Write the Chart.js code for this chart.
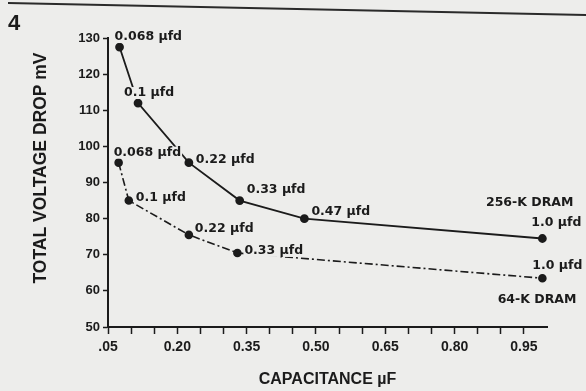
<!DOCTYPE html>
<html>
<head>
<meta charset="utf-8">
<script src="https://cdn.jsdelivr.net/npm/chart.js@4"></script>
<style>
  html, body { margin: 0; padding: 0; background: #ededeb; }
  .wrap { width: 586px; height: 391px; position: relative; }
</style>
</head>
<body>
<div class="wrap"><canvas id="chart_canvas"></canvas></div>
<script>
// 데이터
const cap256 = [0.075, 0.115, 0.225, 0.335, 0.475, 0.99];
const drop256 = [127.5, 112, 95.5, 85, 80, 74.5];
const names256 = ['0.068 µfd', '0.1 µfd', '0.22 µfd', '0.33 µfd', '0.47 µfd', '1.0 µfd'];

const cap64 = [0.073, 0.095, 0.225, 0.33, 0.99];
const drop64 = [95.5, 85, 75.5, 70.5, 63.5];
const names64 = ['0.068 µfd', '0.1 µfd', '0.22 µfd', '0.33 µfd', '1.0 µfd'];

const seriesNames = ['256-K DRAM', '64-K DRAM'];
const xTickLabels = ['.05', '0.20', '0.35', '0.50', '0.65', '0.80', '0.95'];

// 라벨 위치 (점 기준 px)
const labelOffsets = [
    [[-5, -10], [-14, -10], [7, -3], [7, -11], [7, -7], [39, -16, 'right']],
    [[-5, -10], [7, -3], [6, -6], [7, -2], [40, -12, 'right']]
];
const seriesOffsets = [[31, -36], [34, 22]];

const bg = '#ededeb';
const ink = '#1b1b1b';

// 점 라벨 + 시리즈 이름
const pointLabels = {
    id: 'pointLabels',
    afterDatasetsDraw(chart) {
        const ctx = chart.ctx;
        ctx.save();
        ctx.font = 'bold 12.5px "DejaVu Sans"';
        ctx.textBaseline = 'middle';
        ctx.textAlign = 'left';
        chart.data.datasets.forEach(function(ds, di) {
            const meta = chart.getDatasetMeta(di);
            meta.data.forEach(function(pt, i) {
                const o = labelOffsets[di][i];
                const text = ds.pointNames[i];
                const w = ctx.measureText(text).width;
                let x = pt.x + o[0];
                if (o[2] === 'right') x -= w;
                const y = pt.y + o[1];
                ctx.fillStyle = bg;
                ctx.fillRect(x - 1, y - 6, w + 2, 12);
                ctx.fillStyle = ink;
                ctx.fillText(text, x, y);
            });
            // 시리즈 이름
            const last = meta.data[meta.data.length - 1];
            const so = seriesOffsets[di];
            ctx.textAlign = 'right';
            ctx.fillText(ds.label, last.x + so[0], last.y + so[1]);
            ctx.textAlign = 'left';
        });
        ctx.restore();
    }
};

// 그림 번호, 위쪽 선, y축 제목
const decorations = {
    id: 'decorations',
    afterDraw(chart) {
        const ctx = chart.ctx;
        ctx.save();
        ctx.strokeStyle = '#2a2a2a';
        ctx.lineWidth = 2;
        ctx.beginPath();
        ctx.moveTo(8, 3);
        ctx.lineTo(586, 15);
        ctx.stroke();

        ctx.fillStyle = ink;
        ctx.font = 'bold 22px "Liberation Sans"';
        ctx.textBaseline = 'alphabetic';
        ctx.fillText('4', 8, 30);

        ctx.translate(41, 168);
        ctx.rotate(-Math.PI / 2);
        ctx.font = 'bold 17.5px "Liberation Sans"';
        ctx.textAlign = 'center';
        ctx.textBaseline = 'middle';
        ctx.fillText('TOTAL VOLTAGE DROP mV', 0, 0);
        ctx.restore();
    }
};

const ctx = document.getElementById('chart_canvas');
const chart = new Chart(ctx, {
    type: 'line',
    data: {
        datasets: [{
            label: seriesNames[0],
            data: cap256.map((c, i) => ({ x: c, y: drop256[i] })),
            pointNames: names256,
            borderColor: ink,
            backgroundColor: ink,
            pointBackgroundColor: ink,
            borderWidth: 1.8,
            pointRadius: 3.5,
            tension: 0
        }, {
            label: seriesNames[1],
            data: cap64.map((c, i) => ({ x: c, y: drop64[i] })),
            pointNames: names64,
            borderColor: ink,
            backgroundColor: ink,
            pointBackgroundColor: ink,
            borderWidth: 1.6,
            borderDash: [8, 3, 2, 3],
            pointRadius: 3.5,
            tension: 0
        }]
    },
    options: {
        responsive: true,
        maintainAspectRatio: false,
        animation: false,
        layout: {
            padding: { left: 0, right: 39, top: 38, bottom: 0 }
        },
        scales: {
            x: {
                type: 'linear',
                min: 0.05,
                max: 1.0,
                afterFit: function(scale) { scale.height = 64; },
                border: { color: ink, width: 2 },
                grid: {
                    drawOnChartArea: false,
                    tickLength: 7,
                    tickWidth: 1.5,
                    tickColor: function(c) { return c.index > 18 ? 'rgba(0,0,0,0)' : ink; }
                },
                ticks: {
                    stepSize: 0.05,
                    autoSkip: false,
                    maxRotation: 0,
                    padding: 5,
                    color: ink,
                    font: { family: 'Liberation Sans', weight: 'bold', size: 14 },
                    callback: function(v, i) {
                        return i % 3 === 0 && i / 3 < xTickLabels.length ? xTickLabels[i / 3] : '';
                    }
                },
                title: {
                    display: true,
                    text: 'CAPACITANCE µF',
                    color: ink,
                    padding: { top: 0, bottom: 2 },
                    font: { family: 'Liberation Sans', weight: 'bold', size: 16 }
                }
            },
            y: {
                min: 50,
                max: 130,
                afterFit: function(scale) { scale.width = 108; },
                border: { color: ink, width: 2 },
                grid: {
                    drawOnChartArea: false,
                    tickLength: 5,
                    tickWidth: 1.5,
                    tickColor: ink
                },
                ticks: {
                    stepSize: 10,
                    padding: 3,
                    color: ink,
                    font: { family: 'Liberation Sans', weight: 'bold', size: 13 }
                }
            }
        },
        plugins: {
            legend: { display: false },
            tooltip: { enabled: false }
        }
    },
    plugins: [pointLabels, decorations]
});
</script>
</body>
</html>
